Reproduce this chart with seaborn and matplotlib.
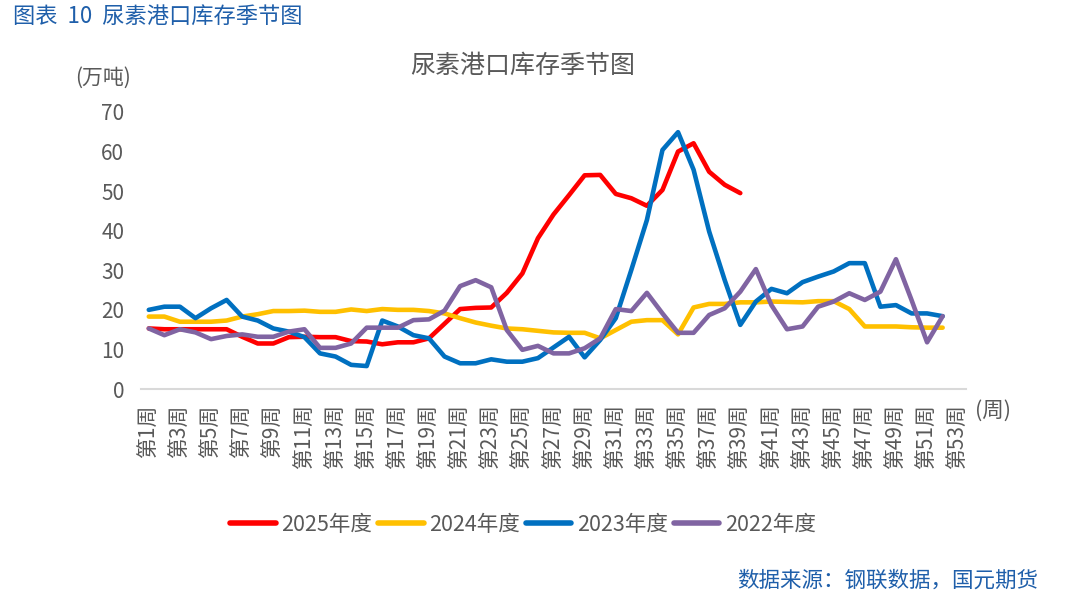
import numpy as np
import pandas as pd
import matplotlib
matplotlib.use("Agg")
import matplotlib.pyplot as plt
import seaborn as sns

# ---------------- data ----------------
weeks = list(range(1, 54))
week_labels = [f"第{w}周" for w in weeks]

y2025 = [15.3, 15.1, 15.1, 15.1, 15.1, 15.1, 13.2, 11.5, 11.5, 13.1,
         13.2, 13.1, 13.1, 12.1, 12.0, 11.3, 11.8, 11.8, 12.8, 16.5,
         20.2, 20.5, 20.6, 24.3, 29.2, 38.1, 44.1, 49.0, 54.0, 54.1,
         49.3, 48.2, 46.3, 50.3, 60.0, 62.1, 54.9, 51.6, 49.5]
y2024 = [18.3, 18.3, 17.0, 17.0, 17.0, 17.3, 18.3, 18.9, 19.7, 19.7,
         19.8, 19.5, 19.5, 20.1, 19.7, 20.2, 20.0, 20.0, 19.7, 19.1,
         17.9, 16.8, 16.0, 15.3, 15.1, 14.7, 14.3, 14.2, 14.2, 12.8,
         14.9, 17.0, 17.4, 17.4, 13.8, 20.6, 21.5, 21.5, 21.9, 21.9,
         22.1, 22.0, 21.9, 22.2, 22.2, 20.2, 15.8, 15.8, 15.8, 15.6,
         15.5, 15.5]
y2023 = [20.0, 20.8, 20.8, 17.9, 20.4, 22.5, 18.3, 17.3, 15.3, 14.5,
         13.1, 9.0, 8.2, 6.1, 5.8, 17.3, 15.8, 13.6, 12.8, 8.2,
         6.5, 6.5, 7.5, 6.9, 6.9, 7.8, 10.5, 13.2, 8.0, 12.4,
         17.9, 30.1, 42.7, 60.4, 64.9, 55.4, 39.8, 27.5, 16.2, 22.1,
         25.3, 24.2, 27.0, 28.4, 29.7, 31.8, 31.8, 20.8, 21.2, 19.1,
         19.1, 18.4]
y2022 = [15.3, 13.6, 15.1, 14.3, 12.6, 13.4, 13.8, 13.2, 13.2, 14.5,
         15.1, 10.4, 10.4, 11.5, 15.5, 15.5, 15.5, 17.4, 17.6, 19.8,
         26.0, 27.5, 25.7, 14.9, 9.9, 10.9, 9.0, 9.0, 10.3, 12.8,
         20.2, 19.7, 24.3, 19.1, 14.2, 14.2, 18.7, 20.4, 24.6, 30.3,
         21.2, 15.1, 15.8, 20.8, 22.1, 24.2, 22.5, 24.6, 32.8, 22.5,
         11.8, 18.4]

series_names = ["2025年度", "2024年度", "2023年度", "2022年度"]
series_vals = [y2025, y2024, y2023, y2022]
colors = ["#FF0000", "#FFC000", "#0070C0", "#8064A2"]
y_ticks = [0, 10, 20, 30, 40, 50, 60, 70]

rows = []
for name, vals in zip(series_names, series_vals):
    for i, v in enumerate(vals):
        rows.append({"idx": i, "value": v, "year": name})
df = pd.DataFrame(rows)

# ---------------- style ----------------
sns.set_style("white")
plt.rcParams["font.family"] = ["Noto Sans CJK SC", "DejaVu Sans"]
TXT = "#595959"
BLUE_TXT = "#1F5FAA"

fig = plt.figure(figsize=(10.66, 6.06), dpi=100)
ax = fig.add_axes([141 / 1066, 1 - 389 / 606, (966 - 141) / 1066, (389 - 112) / 606])

sns.lineplot(data=df, x="idx", y="value", hue="year", hue_order=series_names,
             palette=colors, linewidth=3.3, sort=False, ax=ax, legend=True)

ax.set_xlim(-0.5, len(weeks) - 0.5)
ax.set_ylim(0, 70)
ax.set_yticks(y_ticks)
ax.set_yticklabels([str(t) for t in y_ticks], fontsize=15, color=TXT)
tick_pos = list(range(0, len(weeks), 2))
ax.set_xticks(tick_pos)
ax.set_xticklabels([week_labels[i] for i in tick_pos], rotation=90,
                   fontsize=15, color=TXT, va="top")
ax.tick_params(axis="x", length=0, pad=11)
ax.tick_params(axis="y", length=0, pad=12)
ax.set_xlabel("")
ax.set_ylabel("")
for s in ["top", "right", "left"]:
    ax.spines[s].set_visible(False)
ax.spines["bottom"].set_color("#D9D9D9")
ax.spines["bottom"].set_linewidth(1.5)
ax.grid(False)

# legend
handles, labels = ax.get_legend_handles_labels()
ax.get_legend().remove()
leg = fig.legend(handles, labels, loc="center", bbox_to_anchor=(523 / 1066, 1 - 525 / 606),
                 ncol=4, frameon=False, fontsize=15.5, handlelength=2.1,
                 handletextpad=0.25, columnspacing=0.3)
for t in leg.get_texts():
    t.set_color(TXT)
for h in leg.get_lines():
    h.set_linewidth(4)

# texts
fig.text(523 / 1066, 1 - 66 / 606, "尿素港口库存季节图", fontsize=18, color=TXT,
         ha="center", va="center")
fig.text(13 / 1066, 1 - 16 / 606, "图表  10  尿素港口库存季节图", fontsize=16,
         color=BLUE_TXT, ha="left", va="center")
fig.text(103 / 1066, 1 - 78 / 606, "(万吨)", fontsize=15, color=TXT,
         ha="center", va="center")
fig.text(975 / 1066, 1 - 411 / 606, "(周)", fontsize=15.5, color=TXT,
         ha="left", va="center")
fig.text(1038 / 1066, 1 - 581 / 606, "数据来源：钢联数据，国元期货", fontsize=15.5,
         color=BLUE_TXT, ha="right", va="center")

fig.savefig("out.png", dpi=100)
